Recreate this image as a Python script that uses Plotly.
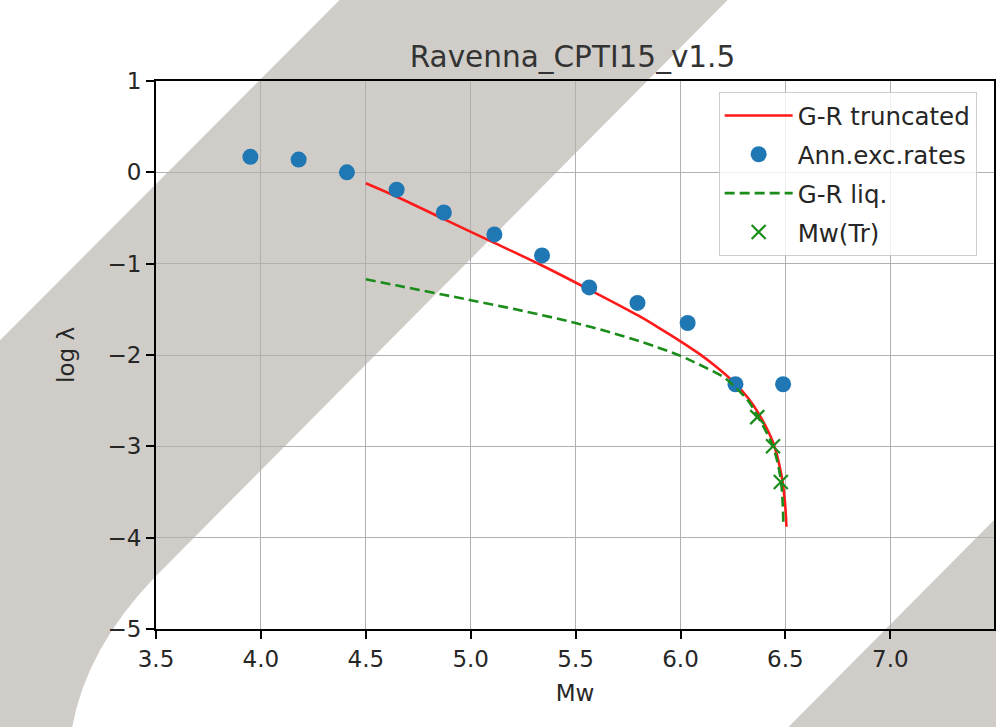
import plotly.graph_objects as go

# ---- data ----
x_rates = [3.95, 4.18, 4.41, 4.647, 4.872, 5.113, 5.34, 5.565, 5.795, 6.034, 6.262, 6.489]
y_rates = [0.17, 0.14, 0.00, -0.19, -0.44, -0.68, -0.91, -1.26, -1.43, -1.65, -2.32, -2.32]

x_gr = [4.50, 4.65, 4.87, 5.11, 5.34, 5.57, 5.80, 5.895, 6.00, 6.085, 6.16, 6.26, 6.322, 6.37, 6.44, 6.48, 6.497, 6.505]
y_gr = [-0.12, -0.27, -0.51, -0.77, -1.02, -1.29, -1.57, -1.70, -1.85, -1.98, -2.11, -2.31, -2.47, -2.63, -2.95, -3.30, -3.59, -3.88]

x_liq = [4.50, 4.65, 4.87, 5.00, 5.254, 5.50, 5.736, 5.895, 6.00, 6.085, 6.21, 6.26, 6.322, 6.36, 6.44, 6.478, 6.49]
y_liq = [-1.17, -1.24, -1.34, -1.40, -1.52, -1.65, -1.80, -1.92, -2.01, -2.10, -2.25, -2.35, -2.50, -2.64, -3.00, -3.37, -3.83]

x_tr = [6.366, 6.441, 6.478]
y_tr = [-2.68, -3.00, -3.39]

title_text = "Ravenna_CPTI15_v1.5"
x_title = "Mw"
y_title = "log λ"
x_ticks = [3.5, 4.0, 4.5, 5.0, 5.5, 6.0, 6.5, 7.0, 7.5]
y_ticks = [1, 0, -1, -2, -3, -4, -5]

# ---- layout geometry (pixels) ----
W, H = 996, 727
L, T, R, B = 156, 81, 0, 98
PW, PH = W - L - R, H - T - B


def pp(px, py):
    return (px - L) / PW, (H - B - py) / PH


def fmt(px, py):
    xp, yp = pp(px, py)
    return f"{xp:.5f},{yp:.5f}"


band1_path = ("M" + fmt(-5, 345) + " L" + fmt(345, -5) + " L" + fmt(734, -5)
              + " L" + fmt(155, 577) + " Q" + fmt(86.5, 648) + " " + fmt(72, 727)
              + " L" + fmt(70, 735) + " L" + fmt(-5, 735) + " Z")
band2_path = "M" + fmt(1003, 513) + " L" + fmt(785, 732) + " L" + fmt(1003, 732) + " Z"

fig = go.Figure()

fig.add_trace(go.Scatter(x=x_gr, y=y_gr, mode="lines", name="G-R truncated",
                         line=dict(color="#ff1a1a", width=2.6, shape="spline", smoothing=1.0),
                         legendgroup="a"))
fig.add_trace(go.Scatter(x=x_rates, y=y_rates, mode="markers", name="Ann.exc.rates",
                         marker=dict(color="#1f77b4", size=16), legendgroup="b"))
fig.add_trace(go.Scatter(x=x_liq, y=y_liq, mode="lines", name="G-R liq.",
                         line=dict(color="#1a8c1a", width=2.6, dash="10px,5px",
                                   shape="spline", smoothing=1.0),
                         legendgroup="c"))
fig.add_trace(go.Scatter(x=x_tr, y=y_tr, mode="markers", name="Mw(Tr)",
                         marker=dict(symbol="x-thin", size=14, color="#1a8c1a",
                                     line=dict(color="#1a8c1a", width=2.2)), legendgroup="d"))

gray = "rgb(208,205,201)"
shapes = [
    dict(type="path", xref="paper", yref="paper", path=band1_path,
         fillcolor=gray, line=dict(width=0), layer="below"),
    dict(type="path", xref="paper", yref="paper", path=band2_path,
         fillcolor=gray, line=dict(width=0), layer="below"),
]

font = dict(family="DejaVu Sans", size=23, color="#262626")

fig.update_layout(
    width=W, height=H, autosize=False,
    margin=dict(l=L, r=R, t=T, b=B, pad=0),
    paper_bgcolor="white", plot_bgcolor="rgba(0,0,0,0)",
    font=font,
    shapes=shapes,
    showlegend=True,
    title=dict(text=title_text, x=(573.5 - L) / PW, xref="paper", xanchor="center",
               y=1 - 57 / H, yref="container", yanchor="middle",
               font=dict(family="DejaVu Sans", size=29.5, color="#333333")),
    legend=dict(x=(720 - L) / PW, y=(H - B - 92) / PH, xanchor="left", yanchor="top",
                bgcolor="rgba(255,255,255,0.8)", bordercolor="#cccccc", borderwidth=1,
                font=dict(family="DejaVu Sans", size=24.5, color="#262626"),
                tracegroupgap=4, itemwidth=68),
    xaxis=dict(range=[3.5, 3.5 + PW / 210.3], tickvals=x_ticks,
               ticktext=[f"{v:.1f}" for v in x_ticks],
               showgrid=True, gridcolor="#b0b0b0", gridwidth=1.4,
               showline=True, linecolor="black", linewidth=1.8, mirror=True,
               ticks="outside", ticklen=8, tickwidth=1.6, tickcolor="black",
               zeroline=False,
               title=dict(text=x_title, standoff=14, font=font)),
    yaxis=dict(range=[-5, 1], tickvals=y_ticks,
               showgrid=True, gridcolor="#b0b0b0", gridwidth=1.4,
               showline=True, linecolor="black", linewidth=1.8, mirror=True,
               ticks="outside", ticklen=8, tickwidth=1.6, tickcolor="black",
               zeroline=False,
               title=dict(text=y_title, standoff=27, font=font)),
)

fig.write_html("out.html", config={"displayModeBar": False},
               post_script="document.body.style.margin='0';")
